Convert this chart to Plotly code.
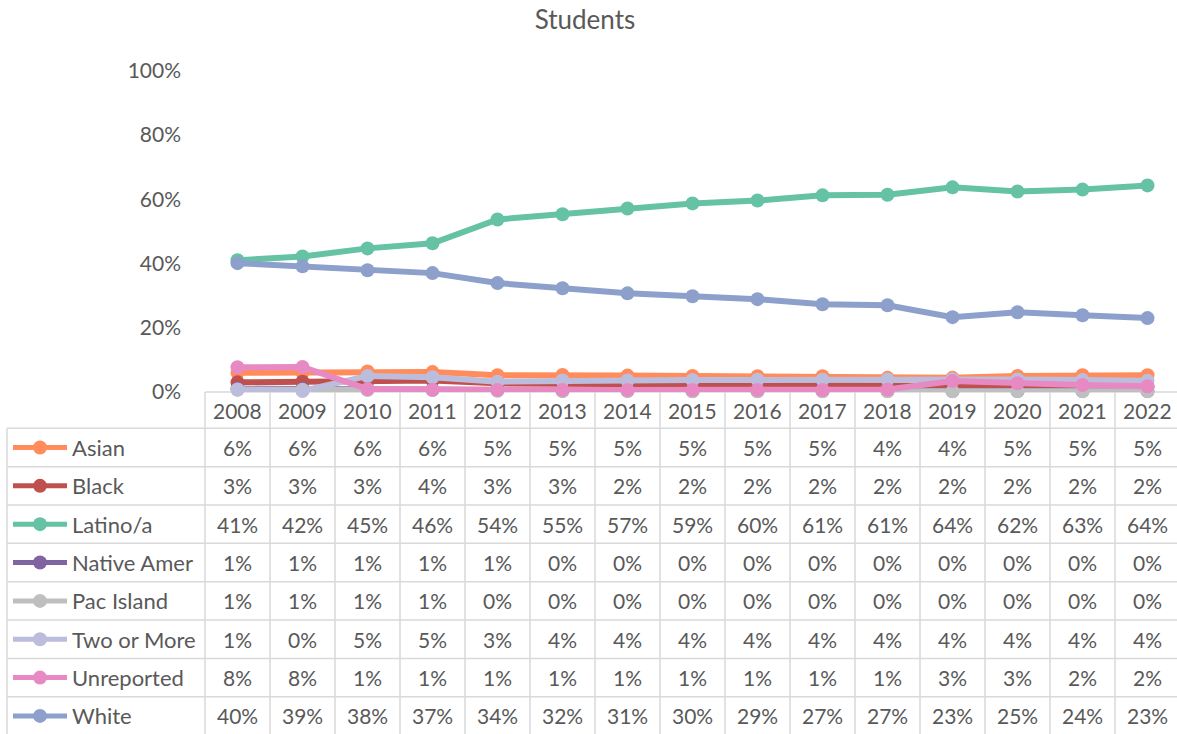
import plotly.graph_objects as go

W, H = 1177, 734

years = list(range(2008, 2023))
series_names = ["Asian", "Black", "Latino/a", "Native Amer", "Pac Island",
                "Two or More", "Unreported", "White"]
asian = [6.0, 6.0, 6.4, 6.2, 5.2, 5.3, 5.1, 5.0, 4.9, 4.9, 4.4, 4.4, 5.0, 5.2, 5.2]
black = [3.0, 3.2, 3.4, 3.6, 2.7, 2.6, 2.3, 2.2, 2.2, 2.2, 2.1, 1.9, 1.7, 1.6, 1.6]
latino = [41.0, 42.2, 44.7, 46.3, 53.7, 55.3, 57.1, 58.7, 59.6, 61.2, 61.4, 63.7, 62.4, 63.0, 64.3]
native = [1.0, 1.0, 0.9, 0.8, 0.6, 0.4, 0.4, 0.3, 0.3, 0.3, 0.3, 0.3, 0.3, 0.3, 0.3]
pacisl = [0.8, 0.7, 0.6, 0.6, 0.4, 0.3, 0.3, 0.2, 0.2, 0.2, 0.2, 0.2, 0.2, 0.2, 0.2]
twomore = [0.7, 0.3, 5.0, 4.6, 3.2, 3.6, 3.6, 3.7, 3.8, 3.8, 3.9, 4.0, 3.9, 3.7, 3.5]
unrep = [7.7, 7.8, 0.9, 0.7, 0.6, 0.6, 0.6, 0.6, 0.6, 0.6, 0.8, 3.4, 2.7, 2.2, 1.8]
white = [40.1, 39.1, 37.9, 37.0, 33.9, 32.3, 30.7, 29.8, 28.9, 27.3, 27.0, 23.3, 24.8, 23.9, 23.0]
values = [asian, black, latino, native, pacisl, twomore, unrep, white]
colors = ["#FF8C5A", "#C0504D", "#66C2A5", "#8064A2", "#BFBFBF",
          "#BCBDDC", "#E78AC3", "#8DA0CB"]
y_ticks = [0, 20, 40, 60, 80, 100]

FONT = "Lato"
TXT = "#595959"
GRID = "#D9D9D9"
FS_LBL = 22
FS_NUM = 21

def px(x):
    return x / W

def py(y):
    return 1 - y / H

# table geometry (pixels)
col_left = 205
col_w = 65
tbl_left = 7
axis_y = 392
header_bottom = 428.3
row_h = 38.35
row_tops = [header_bottom + i * row_h for i in range(len(series_names))]

fig = go.Figure()
for name, vals, c in zip(series_names, values, colors):
    fig.add_trace(go.Scatter(
        x=years, y=[v / 100 for v in vals], name=name, mode="lines+markers",
        line=dict(color=c, width=6), marker=dict(color=c, size=14),
        cliponaxis=False, hoverinfo="x+y+name"))

x_lo = years[0] - 0.5
x_hi = years[0] - 0.5 + (W - col_left) / col_w

shapes = []
ann = []

# axis line / header top
shapes.append(dict(type="line", xref="paper", yref="paper",
                   x0=px(col_left), x1=1, y0=py(axis_y), y1=py(axis_y),
                   line=dict(color=GRID, width=1.5), layer="below"))
# horizontal row lines
for i in range(len(series_names) + 1):
    yy = header_bottom + i * row_h
    shapes.append(dict(type="line", xref="paper", yref="paper",
                       x0=px(tbl_left), x1=1, y0=py(yy), y1=py(yy),
                       line=dict(color=GRID, width=1.5)))
# vertical lines
shapes.append(dict(type="line", xref="paper", yref="paper",
                   x0=px(tbl_left), x1=px(tbl_left), y0=py(header_bottom), y1=0,
                   line=dict(color=GRID, width=1.5)))
for k in range(len(years) + 1):
    xx = col_left + k * col_w
    if xx > W:
        continue
    shapes.append(dict(type="line", xref="paper", yref="paper",
                       x0=px(xx), x1=px(xx), y0=py(axis_y), y1=0,
                       line=dict(color=GRID, width=1.5)))

# header years
for yr in years:
    ann.append(dict(x=yr, y=py((axis_y + header_bottom) / 2), xref="x", yref="paper",
                    text=str(yr), showarrow=False, xanchor="center", yanchor="middle",
                    font=dict(family=FONT, size=FS_NUM, color=TXT)))

# rows
for i, (name, vals, c) in enumerate(zip(series_names, values, colors)):
    cy = row_tops[i] + row_h / 2
    # legend key
    shapes.append(dict(type="line", xref="paper", yref="paper",
                       x0=px(13), x1=px(67), y0=py(cy), y1=py(cy),
                       line=dict(color=c, width=5)))
    r = 7
    shapes.append(dict(type="circle", xref="paper", yref="paper",
                       x0=px(40 - r), x1=px(40 + r), y0=py(cy + r), y1=py(cy - r),
                       fillcolor=c, line=dict(color=c, width=0)))
    ann.append(dict(x=px(70), y=py(cy), xref="paper", yref="paper", text=name,
                    showarrow=False, xanchor="left", yanchor="middle",
                    font=dict(family=FONT, size=FS_LBL, color=TXT)))
    for yr, v in zip(years, vals):
        ann.append(dict(x=yr, y=py(cy), xref="x", yref="paper",
                        text=f"{round(v)}%", showarrow=False,
                        xanchor="center", yanchor="middle",
                        font=dict(family=FONT, size=FS_NUM, color=TXT)))

fig.update_layout(
    template="none",
    width=W, height=H,
    margin=dict(l=0, r=0, t=0, b=0, pad=0, autoexpand=False),
    paper_bgcolor="white", plot_bgcolor="white",
    showlegend=False,
    title=dict(text="Students", x=0.497, xanchor="center", y=1 - 20 / H, yanchor="middle",
               font=dict(family=FONT, size=26, color=TXT)),
    xaxis=dict(domain=[px(col_left), 1], range=[x_lo, x_hi], showticklabels=False,
               showgrid=False, zeroline=False, showline=False, ticks="", automargin=False),
    yaxis=dict(domain=[py(axis_y), py(70.7)], range=[0, 1], tickvals=[t / 100 for t in y_ticks],
               ticktext=[f"{t}%" for t in y_ticks], showgrid=False, zeroline=False,
               showline=False, ticks="", ticklabelstandoff=23, automargin=False,
               tickfont=dict(family=FONT, size=FS_NUM, color=TXT)),
    shapes=shapes, annotations=ann,
    font=dict(family=FONT, color=TXT),
)

fig.write_html("out.html", config={"displayModeBar": False},
               post_script="document.body.style.margin='0';document.body.style.overflow='hidden';")
